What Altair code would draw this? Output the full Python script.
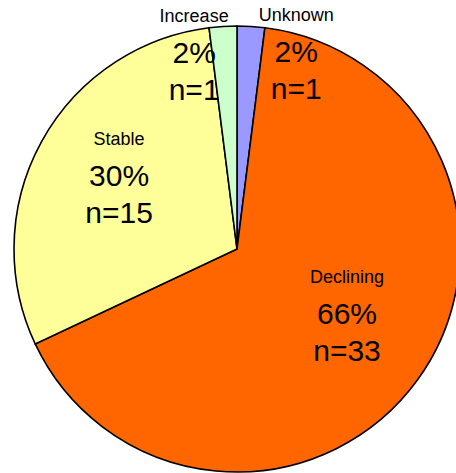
import altair as alt
import pandas as pd

# Survey outcome per trend category
categories = ["Unknown", "Declining", "Stable", "Increase"]
counts = [1, 33, 15, 1]
colors = ["#9999FF", "#FF6600", "#FFFF99", "#CCFFCC"]

# Label placement around the pie centre: angle (degrees clockwise from 12 o'clock) and distance
label_angle = [16.8, 121.0, 301.4, 347.6]
label_dist = [204.7, 128.3, 138.2, 199.7]

CX, CY, R = 237, 249, 223
total = sum(counts)

df = pd.DataFrame({
    "category": categories,
    "count": counts,
    "idx": list(range(len(categories))),
    "pct": [f"{round(100 * c / total)}%" for c in counts],
    "nlab": [f"n={c}" for c in counts],
    "ang": label_angle,
    "dist": label_dist,
})

base = alt.Chart(df)

pie = base.mark_arc(radius=R, stroke="black", strokeWidth=1.6).encode(
    theta=alt.Theta("count:Q", stack=True),
    order=alt.Order("idx:Q"),
    color=alt.Color("category:N",
                    scale=alt.Scale(domain=categories, range=colors),
                    legend=None),
    x=alt.value(CX),
    y=alt.value(CY),
)

lab = base.transform_calculate(
    lx=f"{CX} + datum.dist * sin(datum.ang * PI / 180)",
    ly=f"{CY} - datum.dist * cos(datum.ang * PI / 180)",
)

font = "Liberation Sans"
name_txt = lab.mark_text(font=font, fontSize=18, dy=-37, color="black").encode(
    x=alt.X("lx:Q", scale=None), y=alt.Y("ly:Q", scale=None), text="category:N")
pct_txt = lab.mark_text(font=font, fontSize=30, color="black").encode(
    x=alt.X("lx:Q", scale=None), y=alt.Y("ly:Q", scale=None), text="pct:N")
n_txt = lab.mark_text(font=font, fontSize=30, dy=37, color="black").encode(
    x=alt.X("lx:Q", scale=None), y=alt.Y("ly:Q", scale=None), text="nlab:N")

chart = alt.layer(pie, name_txt, pct_txt, n_txt).properties(
    width=456, height=473, autosize=alt.AutoSizeParams(type="none"), padding=0,
    background="white",
).configure_view(stroke=None)

chart.save("out.html", embed_options={"renderer": "svg", "actions": False})
